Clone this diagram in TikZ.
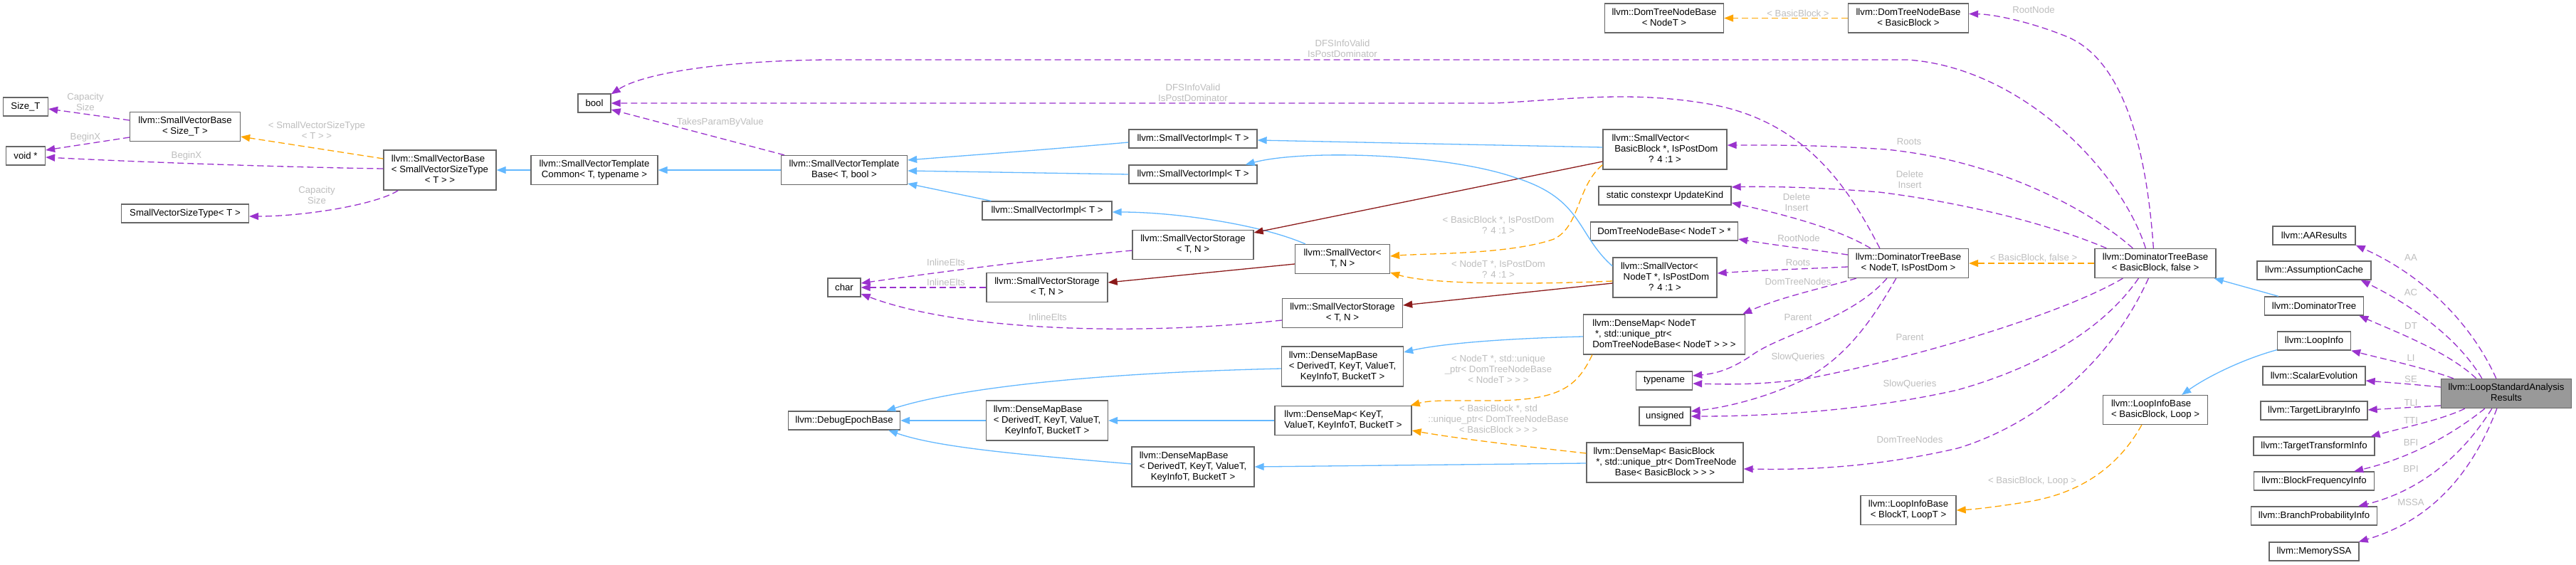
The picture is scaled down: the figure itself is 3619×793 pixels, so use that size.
\documentclass[tikz,border=0pt]{standalone}
\usepackage{fontspec}
\setmainfont{Liberation Sans}
\usetikzlibrary{arrows.meta,calc}
\definecolor{usecol}{HTML}{9A32CD}
\definecolor{tplcol}{HTML}{FFA500}
\definecolor{inhcol}{HTML}{63B8FF}
\definecolor{privcol}{HTML}{8B1A1A}
\definecolor{lblcol}{HTML}{BEBEBE}
\definecolor{boxcol}{HTML}{666666}
\definecolor{hlcol}{HTML}{999999}
\newcommand{\nf}{\fontsize{13.2}{15}\selectfont}
\newcommand{\ml}[2]{\begin{tabular}{@{}l@{}}#1\\\multicolumn{1}{@{}c@{}}{#2}\end{tabular}}
\newcommand{\ind}{\hspace*{3.7pt}}
\tikzset{
  cbox/.style={draw=boxcol, line width=1.3pt, fill=white, inner sep=0pt, font=\nf, minimum height=26pt},
  two/.style={minimum height=41pt},
  three/.style={minimum height=56pt},
  elab/.style={font=\nf, text=lblcol, align=center, inner sep=0pt},
  conn/.style={line width=1.3pt, -{Triangle[length=13pt,width=10pt]}},
  usage/.style={conn, draw=usecol, fill=none, dash pattern=on 9pt off 5pt, arrows={-{Triangle[length=13pt,width=10pt,fill=usecol]}}},
  tmpl/.style={conn, draw=tplcol, dash pattern=on 9pt off 5pt, arrows={-{Triangle[length=13pt,width=10pt,fill=tplcol]}}},
  inh/.style={conn, draw=inhcol, arrows={-{Triangle[length=13pt,width=10pt,fill=inhcol]}}},
  priv/.style={conn, draw=privcol, arrows={-{Triangle[length=13pt,width=10pt,fill=privcol]}}},
}
\begin{document}
\begin{tikzpicture}[x=1pt,y=-1pt]
\useasboundingbox (0,0) rectangle (3619,793);
\fill[white] (0,0) rectangle (3619,793);

% ---------------- nodes ----------------
\node[cbox, minimum width=63pt] (sizet) at (36,150) {Size\_T};
\node[cbox, minimum width=55pt] (voidp) at (36,219) {void *};
\node[cbox, two, minimum width=155pt] (svbSize) at (260,178) {\ml{llvm::SmallVectorBase}{< Size\_T >}};
\node[cbox, minimum width=179pt] (svst) at (260,300) {SmallVectorSizeType< T >};
\node[cbox, three, minimum width=158pt] (svbT) at (618,239) {\ml{llvm::SmallVectorBase\\< SmallVectorSizeType}{< T > >}};
\node[cbox, two, minimum width=178pt] (svtc) at (835,239) {\ml{llvm::SmallVectorTemplate}{Common< T, typename >}};
\node[cbox, minimum width=46pt] (bool) at (835,145) {bool};
\node[cbox, two, minimum width=177pt] (svtb) at (1186,239) {\ml{llvm::SmallVectorTemplate}{Base< T, bool >}};
\node[cbox, minimum width=46pt] (char) at (1186,404) {char};
\node[cbox, minimum width=157pt] (debug) at (1186,591) {llvm::DebugEpochBase};
\node[cbox, minimum width=182pt] (svi3) at (1471,296) {llvm::SmallVectorImpl< T >};
\node[cbox, two, minimum width=170pt] (svs2) at (1471,404) {\ml{llvm::SmallVectorStorage}{< T, N >}};
\node[cbox, three, minimum width=171pt] (dmb2) at (1471,591) {\ml{llvm::DenseMapBase\\< DerivedT, KeyT, ValueT,}{KeyInfoT, BucketT >}};
\node[cbox, minimum width=180pt] (svi1) at (1676,195) {llvm::SmallVectorImpl< T >};
\node[cbox, minimum width=180pt] (svi2) at (1676,245) {llvm::SmallVectorImpl< T >};
\node[cbox, two, minimum width=170pt] (svs1) at (1676,344) {\ml{llvm::SmallVectorStorage}{< T, N >}};
\node[cbox, three, minimum width=172pt] (dmb3) at (1676,656) {\ml{llvm::DenseMapBase\\< DerivedT, KeyT, ValueT,}{KeyInfoT, BucketT >}};
\node[cbox, two, minimum width=133pt] (svTN) at (1886,364) {\ml{llvm::SmallVector<}{T, N >}};
\node[cbox, two, minimum width=169pt] (svs3) at (1886,440) {\ml{llvm::SmallVectorStorage}{< T, N >}};
\node[cbox, three, minimum width=171pt] (dmb1) at (1886,515) {\ml{llvm::DenseMapBase\\< DerivedT, KeyT, ValueT,}{KeyInfoT, BucketT >}};
\node[cbox, two, minimum width=192pt] (dmKT) at (1887,591) {\ml{llvm::DenseMap< KeyT,}{ValueT, KeyInfoT, BucketT >}};
\node[cbox, two, minimum width=167pt] (dtnbN) at (2338,25.5) {\ml{llvm::DomTreeNodeBase}{< NodeT >}};
\node[cbox, two, minimum width=169pt] (dtnbBB) at (2681,25.5) {\ml{llvm::DomTreeNodeBase}{< BasicBlock >}};
\node[cbox, three, minimum width=174pt] (svBB) at (2339,210) {\ml{llvm::SmallVector<\\\ind BasicBlock *, IsPostDom}{? 4 :1 >}};
\node[cbox, minimum width=186pt] (upd) at (2339,275) {static constexpr UpdateKind};
\node[cbox, minimum width=207pt] (dtnbp) at (2338,325) {DomTreeNodeBase< NodeT > *};
\node[cbox, three, minimum width=146pt] (svN) at (2339,390) {\ml{llvm::SmallVector<\\\ind NodeT *, IsPostDom}{? 4 :1 >}};
\node[cbox, three, minimum width=227pt] (dmN) at (2338,470) {\ml{llvm::DenseMap< NodeT\\\ind *, std::unique\_ptr<}{DomTreeNodeBase< NodeT > > >}};
\node[cbox, minimum width=79pt] (typename) at (2338,535) {typename};
\node[cbox, minimum width=72pt] (unsigned) at (2339,585) {unsigned};
\node[cbox, three, minimum width=220pt] (dmBB) at (2339,650) {\ml{llvm::DenseMap< BasicBlock\\\ind *, std::unique\_ptr< DomTreeNode}{Base< BasicBlock > > >}};
\node[cbox, two, minimum width=169pt] (dtb) at (2681,370) {\ml{llvm::DominatorTreeBase}{< NodeT, IsPostDom >}};
\node[cbox, two, minimum width=134pt] (lib) at (2681,717) {\ml{llvm::LoopInfoBase}{< BlockT, LoopT >}};
\node[cbox, two, minimum width=170pt] (dtbBB) at (3028,370) {\ml{llvm::DominatorTreeBase}{< BasicBlock, false >}};
\node[cbox, two, minimum width=147pt] (libBB) at (3028,576) {\ml{llvm::LoopInfoBase}{< BasicBlock, Loop >}};
\node[cbox, minimum width=116pt] (aa) at (3251,331) {llvm::AAResults};
\node[cbox, minimum width=160pt] (ac) at (3251,380) {llvm::AssumptionCache};
\node[cbox, minimum width=139pt] (dt) at (3251,430) {llvm::DominatorTree};
\node[cbox, minimum width=103pt] (li) at (3251,479) {llvm::LoopInfo};
\node[cbox, minimum width=144pt] (se) at (3251,528) {llvm::ScalarEvolution};
\node[cbox, minimum width=150pt] (tli) at (3251,577) {llvm::TargetLibraryInfo};
\node[cbox, minimum width=170pt] (tti) at (3251,627) {llvm::TargetTransformInfo};
\node[cbox, minimum width=169pt] (bfi) at (3251,676) {llvm::BlockFrequencyInfo};
\node[cbox, minimum width=177pt] (bpi) at (3251,725) {llvm::BranchProbabilityInfo};
\node[cbox, minimum width=126pt] (mssa) at (3251,775) {llvm::MemorySSA};
\node[cbox, two, minimum width=183pt, fill=hlcol] (lsar) at (3521,553) {\ml{llvm::LoopStandardAnalysis}{Results}};

% ---------------- edges: left part ----------------
\draw[usage] ($(svbSize.west)+(0,-9)$) -- ($(sizet.east)+(0,3)$);
\draw[usage] ($(svbSize.west)+(0,15)$) -- ($(voidp.east)+(0,-8)$);
\draw[usage] ($(svbT.west)+(0,-2)$) .. controls (400,235) and (200,228) .. ($(voidp.east)+(0,2)$);
\draw[tmpl] ($(svbT.west)+(0,-16)$) -- ($(svbSize.east)+(0,14)$);
\draw[usage] ($(svbT.south west)+(21,0)$) .. controls (530,287) and (430,304) .. ($(svst.east)+(0,4)$);
\draw[inh] (svtc.west) -- (svbT.east);
\draw[inh] (svtb.west) -- (svtc.east);
\draw[usage] ($(svtb.north west)+(5,0)$) -- ($(bool.east)+(0,9)$);
\draw[inh] ($(svi1.west)+(0,5)$) .. controls (1450,212) and (1350,219) .. ($(svtb.east)+(0,-14)$);
\draw[inh] (svi2.west) -- ($(svtb.east)+(0,1)$);
\draw[inh] ($(svi3.north west)+(13,0)$) -- ($(svtb.east)+(0,19)$);
\draw[usage] ($(svs1.west)+(0,8)$) .. controls (1450,365) and (1300,385) .. ($(char.east)+(0,-6)$);
\draw[usage] (svs2.west) -- (char.east);
\draw[usage] ($(svs3.west)+(0,10)$) .. controls (1600,472) and (1350,466) .. ($(char.east)+(0,9)$);
\draw[inh] ($(svTN.north west)+(15,0)$) .. controls (1770,315) and (1650,298) .. ($(svi3.east)+(0,2)$);
\draw[priv] ($(svTN.west)+(0,7)$) -- ($(svs2.east)+(0,-7)$);
\draw[inh] ($(svBB.west)+(0,-3)$) -- ($(svi1.east)+(0,2)$);
\draw[priv] ($(svBB.west)+(0,17)$) -- ($(svs1.east)+(0,-17)$);
\draw[inh] ($(svN.west)+(0,-16)$) .. controls (2215,330) and (2225,280) .. (2130,250) .. controls (2030,215) and (1830,210) .. ($(svi2.north east)+(-17,0)$);
\draw[priv] ($(svN.west)+(0,8)$) -- ($(svs3.east)+(0,-11)$);
\draw[tmpl] ($(svBB.south west)+(0,-7)$) .. controls (2215,262) and (2220,318) .. (2183,336) .. controls (2120,358) and (2000,356) .. ($(svTN.east)+(0,-4)$);
\draw[tmpl] ($(svN.west)+(0,5)$) .. controls (2150,400) and (2010,400) .. ($(svTN.east)+(0,19)$);
\draw[inh] ($(dmb1.west)+(0,3)$) .. controls (1500,525) and (1330,550) .. ($(debug.north east)+(-20,0)$);
\draw[inh] (dmb2.west) -- (debug.east);
\draw[inh] ($(dmb3.west)+(0,-4)$) .. controls (1450,640) and (1320,630) .. ($(debug.south east)+(-17,0)$);
\draw[inh] (dmKT.west) -- (dmb2.east);
\draw[inh] ($(dmN.west)+(0,3)$) .. controls (2100,476) and (2020,484) .. ($(dmb1.east)+(0,-20)$);
\draw[inh] ($(dmBB.west)+(0,1)$) -- (dmb3.east);
\draw[tmpl] ($(dmN.south west)+(13,0)$) .. controls (2215,545) and (2190,562) .. (2100,563) .. controls (2040,563) and (2010,562) .. ($(dmKT.north east)+(-2,0)$);
\draw[tmpl] ($(dmBB.west)+(0,-13)$) .. controls (2120,625) and (2040,615) .. ($(dmKT.east)+(0,14)$);

% ---------------- edges: dominator part ----------------
\draw[tmpl] (dtnbBB.west) -- (dtnbN.east);
\draw[usage] ($(dtb.north west)+(45,0)$) .. controls (2600,270) and (2540,170) .. (2400,146) .. controls (2290,127) and (2200,140) .. (2100,145) -- (bool.east);
\draw[usage] ($(dtbBB.north west)+(72,0)$) .. controls (2980,240) and (2840,95) .. (2680,84) -- (1160,84) .. controls (1000,86) and (900,105) .. ($(bool.north east)+(0,1)$);
\draw[usage] ($(dtbBB.north west)+(83,0)$) .. controls (3015,200) and (2980,80) .. (2900,50) .. controls (2850,30) and (2800,20) .. ($(dtnbBB.east)+(0,-6)$);
\draw[usage] ($(dtbBB.north west)+(54,0)$) .. controls (2930,290) and (2800,225) .. (2650,210) .. controls (2550,203) and (2470,204) .. ($(svBB.east)+(0,-6)$);
\draw[usage] ($(dtbBB.north west)+(17,0)$) .. controls (2880,315) and (2760,285) .. (2640,270) .. controls (2540,262) and (2470,262) .. ($(upd.north east)+(0,1.5)$);
\draw[usage] ($(dtb.north west)+(32,0)$) .. controls (2580,320) and (2500,300) .. ($(upd.east)+(0,10)$);
\draw[usage] ($(dtb.west)+(0,-12)$) .. controls (2540,350) and (2490,344) .. ($(dtnbp.east)+(0,11)$);
\draw[usage] ($(dtb.west)+(0,5)$) .. controls (2530,378) and (2470,380) .. ($(svN.east)+(0,-6)$);
\draw[usage] ($(dtb.south west)+(12,0)$) .. controls (2560,405) and (2500,418) .. ($(dmN.north east)+(-4,0)$);
\draw[usage] ($(dtb.south west)+(55,0)$) .. controls (2600,450) and (2500,470) .. (2460,500) .. controls (2430,520) and (2410,525) .. ($(typename.east)+(0,-7)$);
\draw[usage] ($(dtb.south west)+(68,0)$) .. controls (2630,450) and (2590,510) .. (2520,540) .. controls (2470,562) and (2420,573) .. ($(unsigned.east)+(0,-7)$);
\draw[usage] ($(dtbBB.south west)+(40,0)$) .. controls (2900,440) and (2700,500) .. (2550,530) .. controls (2480,542) and (2420,540) .. ($(typename.east)+(0,4)$);
\draw[usage] ($(dtbBB.south west)+(62,0)$) .. controls (2950,470) and (2850,520) .. (2750,548) .. controls (2600,582) and (2450,585) .. (unsigned.east);
\draw[usage] ($(dtbBB.south west)+(76,0)$) .. controls (2960,520) and (2850,600) .. (2750,630) .. controls (2620,660) and (2520,660) .. ($(dmBB.east)+(0,9)$);
\draw[tmpl] (dtbBB.west) -- (dtb.east);
\draw[inh] ($(dt.north west)+(20,0)$) -- ($(dtbBB.south east)+(-3,0)$);
\draw[inh] ($(li.south west)+(0,-1)$) .. controls (3150,505) and (3100,530) .. ($(libBB.north east)+(-37,0)$);
\draw[tmpl] ($(libBB.south west)+(55,0)$) .. controls (2985,640) and (2940,690) .. (2850,705) .. controls (2800,713) and (2770,716) .. (lib.east);

% ---------------- edges: LoopStandardAnalysisResults ----------------
\draw[usage] ($(lsar.north west)+(78,0)$) .. controls (3470,450) and (3400,385) .. ($(aa.south east)+(0,0)$);
\draw[usage] ($(lsar.north west)+(58,0)$) .. controls (3450,470) and (3380,425) .. ($(ac.south east)+(-15,0)$);
\draw[usage] ($(lsar.north west)+(50,0)$) .. controls (3440,495) and (3370,468) .. ($(dt.south east)+(-7,0)$);
\draw[usage] ($(lsar.north west)+(18,0)$) .. controls (3400,515) and (3350,505) .. (li.south east);
\draw[usage] ($(lsar.west)+(0,-9)$) .. controls (3390,540) and (3350,537) .. ($(se.east)+(0,7)$);
\draw[usage] ($(lsar.west)+(0,17)$) -- ($(tli.east)+(0,-1)$);
\draw[usage] ($(lsar.south west)+(34,0)$) .. controls (3430,590) and (3380,600) .. ($(tti.north east)+(-6,0)$);
\draw[usage] ($(lsar.south west)+(62,0)$) .. controls (3440,615) and (3380,645) .. ($(bfi.north east)+(-29,0)$);
\draw[usage] ($(lsar.south west)+(72,0)$) .. controls (3460,640) and (3400,690) .. ($(bpi.north east)+(-27,0)$);
\draw[usage] ($(lsar.south west)+(79,0)$) .. controls (3475,660) and (3420,730) .. ($(mssa.north east)+(-1,0)$);

% ---------------- edge labels ----------------
\node[elab] (l1) at (120,143) {Capacity\\Size};
\node[elab] (l2) at (120,193) {BeginX};
\node[elab] (l3) at (262,219) {BeginX};
\node[elab] (l4) at (445,183) {< SmallVectorSizeType\\< T > >};
\node[elab] (l5) at (445,274) {Capacity\\Size};
\node[elab] (l8) at (1012,172) {TakesParamByValue};
\node[elab] (l12) at (1329,369) {InlineElts};
\node[elab] (l13) at (1329,397) {InlineElts};
\node[elab] (l14) at (1472,446) {InlineElts};
\node[elab] (l21) at (2105,316) {< BasicBlock *, IsPostDom\\? 4 :1 >};
\node[elab] (l22) at (2105,378) {< NodeT *, IsPostDom\\? 4 :1 >};
\node[elab] (l29) at (2105,519) {< NodeT *, std::unique\\\_ptr< DomTreeNodeBase\\< NodeT > > >};
\node[elab] (l30) at (2105,589) {< BasicBlock *, std\\::unique\_ptr< DomTreeNodeBase\\< BasicBlock > > >};
\node[elab] (l31) at (2526,19) {< BasicBlock >};
\node[elab] (l32) at (1676,130) {DFSInfoValid\\IsPostDominator};
\node[elab] (l33) at (1886,68) {DFSInfoValid\\IsPostDominator};
\node[elab] (l34) at (2682,199) {Roots};
\node[elab] (l35) at (2683,252) {Delete\\Insert};
\node[elab] (l36) at (2524,284) {Delete\\Insert};
\node[elab] (l37) at (2527,335) {RootNode};
\node[elab] (l38) at (2526,369) {Roots};
\node[elab] (l39) at (2526,396) {DomTreeNodes};
\node[elab] (l40) at (2526,446) {Parent};
\node[elab] (l41) at (2526,502) {SlowQueries};
\node[elab] (l42) at (2683,474) {Parent};
\node[elab] (l43) at (2683,540) {SlowQueries};
\node[elab] (l44) at (2683,618) {DomTreeNodes};
\node[elab] (l45) at (2857,14) {RootNode};
\node[elab] (l46) at (2857,363) {< BasicBlock, false >};
\node[elab] (l49) at (2855,676) {< BasicBlock, Loop >};
\node[elab] (laa) at (3387,362) {AA};
\node[elab] (lac) at (3387,411) {AC};
\node[elab] (ldt) at (3387,458) {DT};
\node[elab] (lli) at (3387,503) {LI};
\node[elab] (lse) at (3387,533) {SE};
\node[elab] (ltli) at (3387,566) {TLI};
\node[elab] (ltti) at (3387,591) {TTI};
\node[elab] (lbfi) at (3387,622) {BFI};
\node[elab] (lbpi) at (3387,659) {BPI};
\node[elab] (lmssa) at (3387,706) {MSSA};
\end{tikzpicture}
\end{document}
